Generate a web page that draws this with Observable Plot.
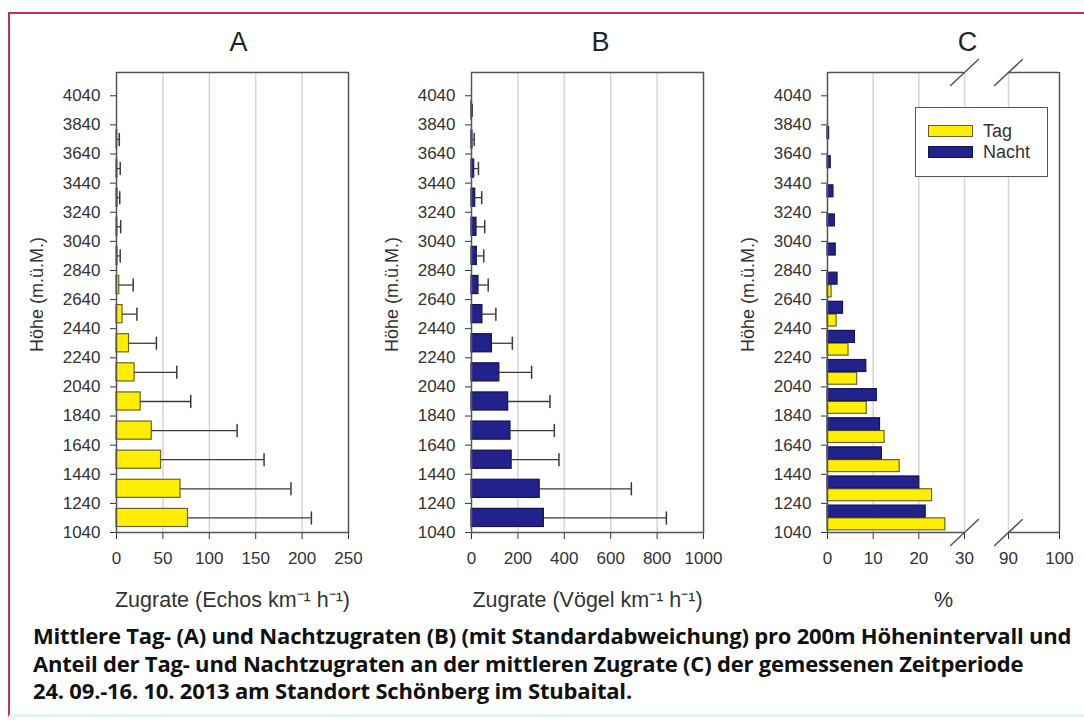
<!DOCTYPE html>
<html><head><meta charset="utf-8">
<script src="https://cdn.jsdelivr.net/npm/d3@7"></script>
<script src="https://cdn.jsdelivr.net/npm/@observablehq/plot@0.6"></script>
<style>
html,body{margin:0;padding:0;background:#fff;overflow:hidden;width:1084px;height:720px;}
#border{position:absolute;left:8px;top:12px;width:1090px;height:705px;border-top:2px solid #c5314b;border-left:2px solid #c5314b;border-bottom:3px solid #e2f3f7;box-sizing:border-box;}
.panel{position:absolute;top:14px;}
#legend{position:absolute;left:915px;top:107px;width:133px;height:70px;border:1.5px solid #555;background:#fff;box-sizing:border-box;font-family:"Liberation Sans",Arial,sans-serif;font-size:18px;color:#333;}
.sw{position:absolute;left:12px;width:45px;height:12px;box-sizing:border-box;border:1.3px solid #6b6420;}
.lt{position:absolute;left:67px;line-height:20px;}
#caption{position:absolute;left:33px;top:622px;font-family:"Open Sans",Lato,sans-serif;font-weight:700;font-size:18px;line-height:27.5px;color:#111;white-space:nowrap;letter-spacing:-0.2px;}
</style></head>
<body>
<div id="border"></div>
<div id="pA" class="panel" style="left:10px"></div>
<div id="pB" class="panel" style="left:365px"></div>
<div id="pC" class="panel" style="left:720px"></div>
<div id="legend"></div>
<div id="caption"></div>
<script>
// ---- data ----
const bins = [1040,1240,1440,1640,1840,2040,2240,2440,2640,2840,3040,3240,3440,3640,3840];
const yTicks = [1040,1240,1440,1640,1840,2040,2240,2440,2640,2840,3040,3240,3440,3640,3840,4040];
// A: Tag, Echos km-1 h-1 (mean, standard deviation)
const echosMean = [77, 69, 48, 38, 26, 19.5, 13.5, 6.5, 3, 1.2, 1, 1.2, 1, 0.8, 0];
const echosSD   = [133, 119, 111, 92, 54, 45.5, 29.5, 15.5, 15, 2.8, 3.5, 2.3, 3, 2.2, 0];
// B: Nacht, Vögel km-1 h-1
const voegelMean = [312, 294, 173, 168, 158, 120, 88, 47, 30, 23, 21.5, 16, 11.5, 4, 1];
const voegelSD   = [528, 395, 204, 189, 180, 139, 88, 58, 42, 30, 35.5, 28, 18.5, 7.5, 2];
// C: share of mean rate, %
const tagPct   = [25.8, 22.9, 15.8, 12.5, 8.6, 6.5, 4.6, 2.0, 0.9, 0, 0, 0, 0, 0, 0];
const nachtPct = [21.5, 20.1, 11.9, 11.5, 10.8, 8.5, 6.0, 3.4, 2.2, 1.8, 1.6, 1.3, 0.7, 0.35, 0];

const xTicksA = [0, 50, 100, 150, 200, 250];
const xTicksB = [0, 200, 400, 600, 800, 1000];
const xTicksC = [0, 10, 20, 30, 90, 100];
const xDomainC = [0, 30, 90, 100];
const breaks = [30, 90];
const seriesNames = ["Tag", "Nacht"];
const titles = ["A", "B", "C"];
const yLabel = "Höhe (m.ü.M.)";
const xLabels = ["Zugrate (Echos km⁻¹ h⁻¹)", "Zugrate (Vögel km⁻¹ h⁻¹)", "%"];
const captionLines = [
  "Mittlere Tag- (A) und Nachtzugraten (B) (mit Standardabweichung) pro 200m Höhenintervall und",
  "Anteil der Tag- und Nachtzugraten an der mittleren Zugrate (C) der gemessenen Zeitperiode",
  "24. 09.-16. 10. 2013 am Standort Schönberg im Stubaital."
];

const YELLOW = "#ffee00", YSTROKE = "#6b6420";
const NAVY = "#22228c", NSTROKE = "#14144f";
const yDomain = [1040, 4200];
const font = '"Liberation Sans", Arial, sans-serif';
const line = {draw(ctx, l) { ctx.moveTo(0, 0); ctx.lineTo(0, -l); }};

function common(title, titleDx, xLabel) {
  return [
    Plot.text([title], {frameAnchor: "top", dx: titleDx, dy: -30, fontSize: 27, lineAnchor: "middle", fill: "#222"}),
    Plot.text([yLabel], {frameAnchor: "left", rotate: -90, dx: -79, dy: -8, fontSize: 18, fill: "#333", lineAnchor: "middle", textAnchor: "middle"}),
    Plot.text([xLabel], {frameAnchor: "bottom", dy: 68, fontSize: 21.5, fill: "#333", lineAnchor: "middle", textAnchor: "middle"})
  ];
}
const yOpts = {domain: yDomain, ticks: yTicks, tickSize: 6, tickPadding: 10, label: null, tickFormat: d => String(d)};
const styleOpts = {fontFamily: font, fontSize: "17px", color: "#333", background: "transparent", overflow: "visible"};

function ratePanel(mean, sd, fill, stroke, xTicks, title, titleDx, xLabel) {
  const data = bins.map((b, i) => ({lo: b, hi: b + 200, mid: b + 100, v: mean[i], e: mean[i] + sd[i]}));
  const err = data.filter(d => d.e > d.v);
  return Plot.plot({
    width: 355, height: 606, marginLeft: 106, marginRight: 17, marginTop: 58, marginBottom: 88,
    x: {domain: [xTicks[0], xTicks[xTicks.length - 1]], ticks: xTicks, tickSize: 7, tickPadding: 12, label: null, tickFormat: d => String(d)},
    y: yOpts,
    style: styleOpts,
    marks: [
      Plot.gridX(xTicks.slice(1, -1), {stroke: "#d6d6d6", strokeOpacity: 1, strokeWidth: 1.5}),
      Plot.rectX(data.filter(d => d.v > 0), {x1: 0, x2: "v", y1: "lo", y2: "hi", insetTop: 5.5, insetBottom: 5.5, fill, stroke, strokeWidth: 1.2}),
      Plot.ruleY(err, {y: "mid", x1: "v", x2: "e", stroke: "#3a3a3a", strokeWidth: 1.3}),
      Plot.vector(err, {x: "e", y: "mid", length: 12, rotate: 0, anchor: "middle", shape: line, stroke: "#3a3a3a", strokeWidth: 1.5}),
      Plot.frame({stroke: "#555", strokeWidth: 1.5}),
      ...common(title, titleDx, xLabel)
    ]
  });
}

document.getElementById("pA").append(ratePanel(echosMean, echosSD, YELLOW, YSTROKE, xTicksA, titles[0], 6, xLabels[0]));
document.getElementById("pB").append(ratePanel(voegelMean, voegelSD, NAVY, NSTROKE, xTicksB, titles[1], 13, xLabels[1]));

// Panel C: broken x axis via piecewise linear scale
const cData = bins.map((b, i) => ({lo: b, hi: b + 200, mid: b + 100, tag: tagPct[i], nacht: nachtPct[i]}));
const segs = [{x1: xDomainC[0], x2: breaks[0]}, {x1: breaks[1], x2: xDomainC[3]}];
const frameSegs = [yDomain[0], yDomain[1]].flatMap(y => segs.map(s => ({...s, y})));
const breakPts = [yDomain[0], yDomain[1]].flatMap(y => breaks.map(x => ({x, y})));
const plotC = Plot.plot({
  width: 364, height: 606, marginLeft: 107, marginRight: 25, marginTop: 58, marginBottom: 88,
  x: {type: "linear", domain: xDomainC, range: [107, 244, 288, 339], ticks: xTicksC, tickSize: 7, tickPadding: 12, label: null, tickFormat: d => String(d)},
  y: yOpts,
  style: styleOpts,
  marks: [
    Plot.gridX(xTicksC.slice(1, -1), {stroke: "#d6d6d6", strokeOpacity: 1, strokeWidth: 1.5}),
    Plot.rectX(cData.filter(d => d.tag > 0), {x1: 0, x2: "tag", y1: "lo", y2: "mid", insetBottom: 2.2, insetTop: 0.4, fill: YELLOW, stroke: YSTROKE, strokeWidth: 1.2}),
    Plot.rectX(cData.filter(d => d.nacht > 0), {x1: 0, x2: "nacht", y1: "mid", y2: "hi", insetTop: 2.2, insetBottom: 0.4, fill: NAVY, stroke: NSTROKE, strokeWidth: 1.2}),
    Plot.ruleX([xDomainC[0], xDomainC[3]], {stroke: "#555", strokeWidth: 1.5}),
    Plot.ruleY(frameSegs, {y: "y", x1: "x1", x2: "x2", stroke: "#555", strokeWidth: 1.5}),
    Plot.vector(breakPts, {x: "x", y: "y", length: 38, rotate: 47, anchor: "middle", shape: line, stroke: "#555", strokeWidth: 1.5}),
    ...common(titles[2], 24, xLabels[2])
  ]
});
document.getElementById("pC").append(plotC);

// legend
const legend = document.getElementById("legend");
[[YELLOW, YSTROKE], [NAVY, NSTROKE]].forEach(([f, s], i) => {
  const sw = document.createElement("div");
  sw.className = "sw"; sw.style.top = (17 + i * 21) + "px"; sw.style.background = f; sw.style.borderColor = s;
  legend.append(sw);
  const t = document.createElement("div");
  t.className = "lt"; t.style.top = (13 + i * 21) + "px"; t.textContent = seriesNames[i];
  legend.append(t);
});

// caption: fit first line to the reference width by font size
const cap = document.getElementById("caption");
captionLines.forEach(l => { const d = document.createElement("div"); d.textContent = l; d.style.display = "inline-block"; cap.append(d); cap.append(document.createElement("br")); });
const w = cap.firstChild.getBoundingClientRect().width;
cap.style.fontSize = (18 * 1035 / w).toFixed(2) + "px";
</script>
</body></html>
